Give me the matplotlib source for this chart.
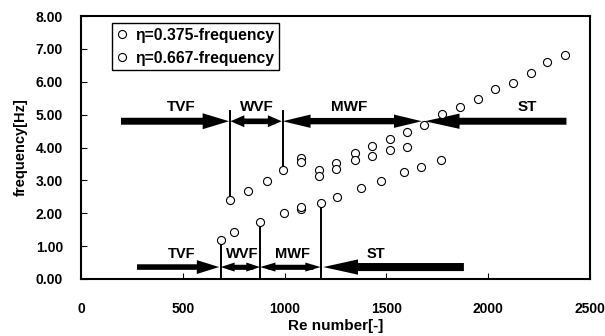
import matplotlib
matplotlib.use('Agg')
import matplotlib.pyplot as plt

plt.rcParams['font.family'] = ['Liberation Sans', 'DejaVu Sans']
plt.rcParams['font.weight'] = 'bold'

# eta = 0.375 (upper band)
re_a = [734, 821, 912, 991, 1081, 1081, 1167, 1167, 1254, 1254, 1345, 1345,
        1431, 1431, 1518, 1518, 1600, 1600, 1687, 1773, 1860, 1949, 2036,
        2123, 2209, 2291, 2379]
f_a = [2.40, 2.68, 2.99, 3.31, 3.67, 3.55, 3.31, 3.14, 3.53, 3.36, 3.82, 3.62,
       4.05, 3.75, 4.26, 3.92, 4.48, 4.02, 4.68, 5.02, 5.24, 5.49, 5.77,
       5.97, 6.28, 6.60, 6.81]

# eta = 0.667 (lower band)
re_b = [686, 752, 880, 996, 1081, 1081, 1177, 1259, 1374, 1472, 1589, 1671, 1769]
f_b = [1.19, 1.44, 1.72, 2.00, 2.12, 2.18, 2.30, 2.50, 2.76, 2.98, 3.26, 3.41, 3.62]

labels = ['η=0.375-frequency', 'η=0.667-frequency']
xticks = [0, 500, 1000, 1500, 2000, 2500]
yticks = [0, 1, 2, 3, 4, 5, 6, 7, 8]

# flow regime transitions (Re, frequency of the marked point)
trans_a = [(734, 2.40), (991, 3.31)]
trans_b = [(686, 1.19), (880, 1.72), (1177, 2.30)]

fig = plt.figure(figsize=(6.05, 3.36), dpi=100)
ax = fig.add_axes([0.134, 0.170, 0.841, 0.782])
ax.set_xlim(0, 2500)
ax.set_ylim(0, 8)

ax.plot(re_a, f_a, 'o', ms=5.8, mfc='white', mec='black', mew=0.8,
        label=labels[0], zorder=4)
ax.plot(re_b, f_b, 'o', ms=5.8, mfc='white', mec='black', mew=0.8,
        label=labels[1], zorder=4)

# vertical transition lines
for x, y in trans_a:
    ax.plot([x, x], [y, 5.12], color='black', lw=1.4, zorder=3)
for x, y in trans_b:
    ax.plot([x, x], [0, y], color='black', lw=1.4, zorder=3)


def arrow(x0, x1, y, hl, hw, tw):
    ax.annotate('', xy=(x1, y), xytext=(x0, y),
                arrowprops=dict(arrowstyle='simple,head_length=%g,head_width=%g,tail_width=%g' % (hl, hw, tw),
                                mutation_scale=1, fc='black', ec='none', lw=0,
                                shrinkA=0, shrinkB=0), zorder=2)


def darrow(x0, x1, y, hl, hw, tw):
    xm = (x0 + x1) / 2.0
    arrow(xm, x0, y, hl, hw, tw)
    arrow(xm, x1, y, hl, hw, tw)
    # solid bar over the join so the middle does not look broken
    d = hl * 0.5 * (2500 / (0.841 * 6.05 * 72))
    ax.plot([x0 + d, x1 - d], [y, y], color='black', lw=tw,
            solid_capstyle='butt', zorder=2)


# upper regimes
yu = 4.80
arrow(196, 727, yu, 19, 11.5, 5)
darrow(734, 986, yu, 10, 8.6, 3.8)
darrow(991, 1674, yu, 20, 9.6, 4.4)
arrow(2385, 1689, yu, 25, 11, 5)
for s, x in [('TVF', 494), ('WVF', 865), ('MWF', 1318), ('ST', 2193)]:
    ax.text(x, 5.22, s, ha='center', va='center', fontsize=11, fontweight='bold')

# lower regimes
yl = 0.36
arrow(275, 678, yl, 16, 10, 4)
darrow(686, 880, yl, 10, 6.5, 3.3)
darrow(880, 1177, yl, 11, 6.5, 3.3)
arrow(1881, 1190, yl, 25, 11, 5.8)
for s, x in [('TVF', 494), ('WVF', 790), ('MWF', 1037), ('ST', 1447)]:
    ax.text(x, 0.75, s, ha='center', va='center', fontsize=10.5, fontweight='bold')

ax.set_xticks(xticks)
ax.set_yticks(yticks)
ax.set_yticklabels(['%.2f' % v for v in yticks])
ax.tick_params(axis='x', direction='in', length=4, pad=17, labelsize=10)
ax.tick_params(axis='y', direction='in', length=4, pad=13, labelsize=10)
for t in ax.get_xticklabels() + ax.get_yticklabels():
    t.set_fontweight('bold')
for sp in ax.spines.values():
    sp.set_linewidth(1.5)

ax.set_xlabel('Re number[-]', fontsize=11, fontweight='bold', labelpad=2)
ax.set_ylabel('frequency[Hz]', fontsize=10.5, fontweight='bold', labelpad=6)

leg = ax.legend(loc='upper left', bbox_to_anchor=(0.061, 0.973), fontsize=11.3,
                frameon=True, fancybox=False, edgecolor='black', framealpha=1,
                handlelength=0.7, handletextpad=0.5, borderaxespad=0,
                labelspacing=0.5, borderpad=0.3)
leg.get_frame().set_linewidth(1.0)
for t in leg.get_texts():
    t.set_fontweight('bold')

fig.savefig('out.png', dpi=100)
